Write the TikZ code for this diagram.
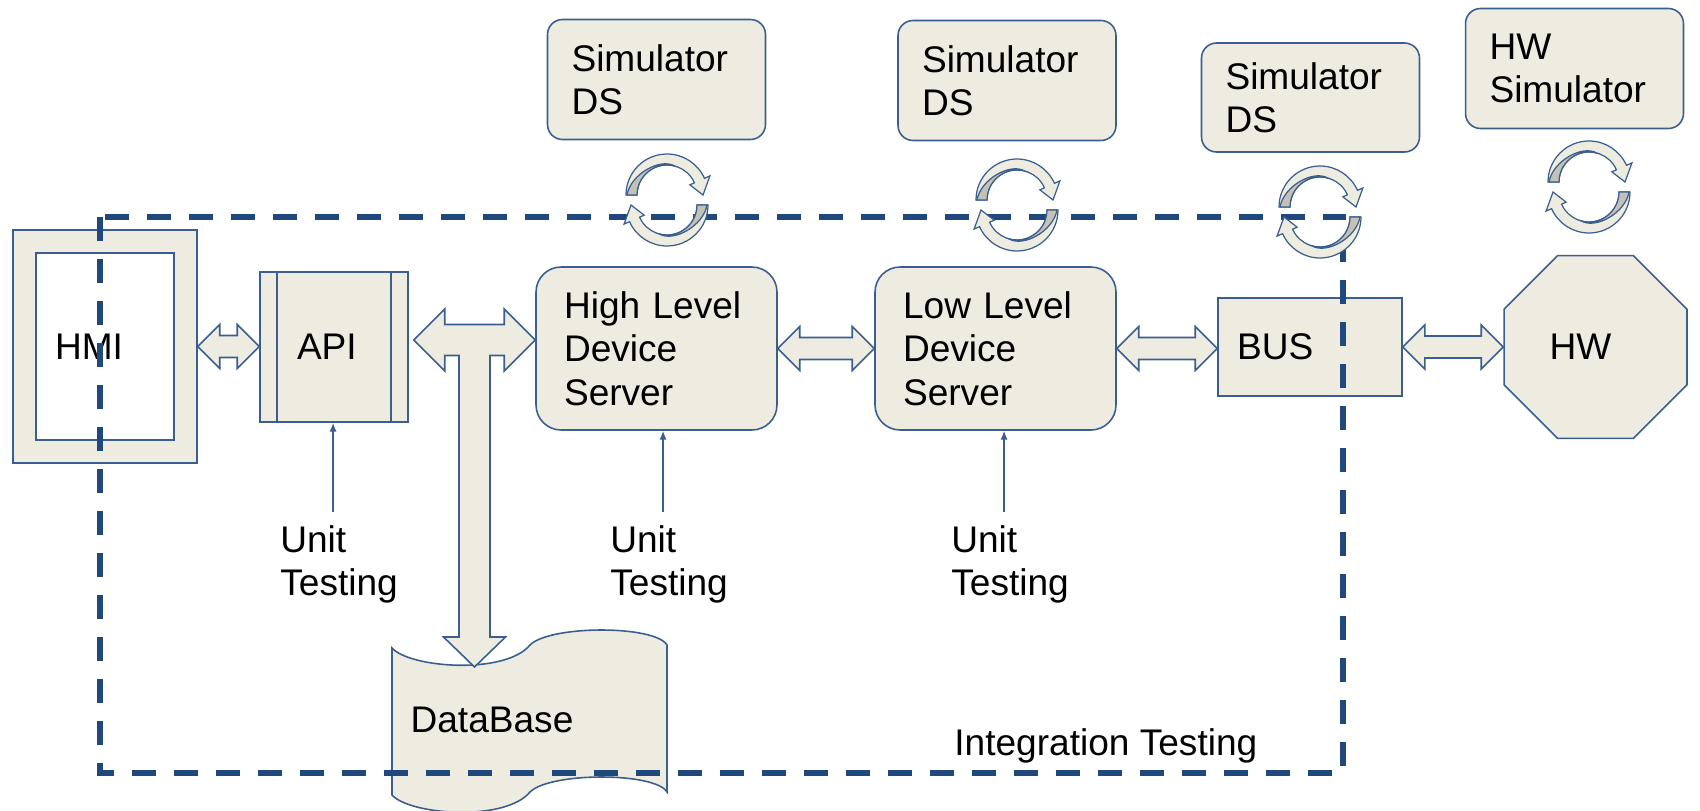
\documentclass[tikz,border=0pt]{standalone}
\usepackage{fontspec}
\setmainfont{Liberation Sans}
\usetikzlibrary{calc,shapes.geometric,arrows.meta}

\definecolor{boxfill}{HTML}{EEECE1}
\definecolor{boxline}{HTML}{3A5F8F}
\definecolor{dashblue}{HTML}{1F497D}
\definecolor{cycgrey}{HTML}{C4C1B6}

\newcommand\lbl{\fontsize{21.1}{24.7}\selectfont}

\tikzset{
  box/.style={draw=boxline, fill=boxfill, line width=0.9pt, font=\lbl, align=left},
  rbox/.style={box, rounded corners=0.5cm, minimum width=4.82cm, minimum height=3.26cm,
               text width=3.7cm, inner xsep=0.56cm},
  simbox/.style={box, rounded corners=0.3cm, minimum width=4.36cm, minimum height=2.4cm,
                 text width=3.4cm, inner xsep=0.48cm},
  blkarrow/.style={draw=boxline, fill=boxfill, line width=0.9pt, line join=miter},
  utarrow/.style={draw=boxline, line width=0.8pt, -{Latex[length=5pt,width=4pt]}},
  ut/.style={font=\lbl, align=left, inner xsep=0pt, inner ysep=0.26cm, anchor=north west},
  cyc/.pic={
    \begin{scope}[yscale=-1]
    \foreach \r in {0,180}{
      \begin{scope}[rotate=\r, shift={(0,5)}]
        \filldraw[fill=boxfill, draw=boxline, line width=0.7pt]
          (180:41) arc[start angle=180, end angle=24, radius=41] -- (24:47) -- (0:36)
          -- (24:25) -- (24:30) arc[start angle=24, end angle=180, radius=30] -- cycle;
        \filldraw[fill=cycgrey, draw=boxline, line width=0.7pt]
          (180:30) arc[start angle=180, end angle=75, radius=30]
          .. controls (100:38) and (150:42) .. (180:40) -- cycle;
      \end{scope}}
    \end{scope}
  }
}

% block arrow with two heads
\newcommand\dblarrow[2]{%
  \draw[blkarrow] (#1) -- ++(22,-22) -- ++(0,11) -- ($(#2|-#1)+(-22,-11)$) -- ++(0,-11)
    -- (#2|-#1) -- ++(-22,22) -- ++(0,-11) -- ($(#1)+(22,11)$) -- ++(0,11) -- cycle;}

\begin{document}
\begin{tikzpicture}[x=0.02cm, y=-0.02cm]
\useasboundingbox (0,0) rectangle (1700,811);

% database
\filldraw[fill=boxfill, draw=boxline, line width=0.9pt]
  (392,648) .. controls (410,668) and (505,675) .. (530,645)
  .. controls (550,625) and (655,625) .. (667,645) -- (667,792)
  .. controls (655,772) and (550,772) .. (530,792)
  .. controls (505,822) and (410,815) .. (392,795) -- cycle;
\node[font=\lbl, inner sep=0pt] (db) at (492,720) {DataBase};
\coordinate (dbtop) at (474.5,667);

% HMI
\node[box, minimum width=3.68cm, minimum height=4.66cm] (hmi) at (105,346.5) {};
\node[box, fill=white, minimum width=2.76cm, minimum height=3.74cm, text width=2cm,
      inner xsep=0.38cm] (hmiscr) at (105,346.5) {HMI};

% API
\node[box, minimum width=2.96cm, minimum height=3cm, text width=1.48cm,
      inner xsep=0.74cm] (api) at (334,347) {API};
\draw[boxline, line width=0.9pt] ([xshift=0.36cm]api.north west) -- ([xshift=0.36cm]api.south west);
\draw[boxline, line width=0.9pt] ([xshift=-0.36cm]api.north east) -- ([xshift=-0.36cm]api.south east);

% servers
\node[rbox] (hl) at (656.5,348.5) {High Level\\Device\\Server};
\node[rbox] (ll) at (995.5,348.5) {Low Level\\Device\\Server};

\node[box, minimum width=3.68cm, minimum height=1.96cm, text width=2.92cm,
      inner xsep=0.38cm] (bus) at (1310,347) {BUS};
\node[box, regular polygon, regular polygon sides=8, minimum size=3.96cm,
      inner sep=0pt] (hw) at (1595.5,347) {HW\hspace{0.6cm}};

% simulators
\node[simbox] (sim1) at (656.5,79.5) {Simulator\\DS};
\node[simbox] (sim2) at (1007,80.5) {Simulator\\DS};
\node[simbox, minimum height=2.18cm] (sim3) at (1310.5,97.5) {Simulator\\DS};
\node[simbox] (sim4) at (1574.5,68.5) {HW\\Simulator};

% block arrows
\dblarrow{hmi.east}{api.west}
\dblarrow{hl.east}{ll.west}
\dblarrow{ll.east}{bus.west}
\dblarrow{bus.east}{hw.180}

\coordinate (tl) at ($(api.east)+(5,-7)$);
\draw[blkarrow] (tl) -- ++(31,-31) -- ++(0,15.5) -- ($(hl.west|-tl)+(-31,-15.5)$) -- ++(0,-15.5)
  -- (hl.west|-tl) -- ++(-31,31) -- ++(0,-15.5) -- ($(dbtop|-tl)+(15.5,15.5)$)
  -- ($(dbtop)+(15.5,-30)$) -- ++(15.5,0) -- (dbtop) -- ++(-31,-30) -- ++(15.5,0)
  -- ($(dbtop|-tl)+(-15.5,15.5)$) -- ($(tl)+(31,15.5)$) -- ++(0,15.5) -- cycle;

% integration frame
\draw[dashblue, line width=0.11cm, dash pattern=on 0.48cm off 0.36cm] (100,217) rectangle (1343,773);
\node[font=\lbl, anchor=base west, inner sep=0pt] (integ) at (954,755) {Integration Testing};

% loops
\pic at (667,200) {cyc};
\pic at (1017,205) {cyc};
\pic at (1320,212) {cyc};
\pic at (1589,187) {cyc};

% unit tests
\node[ut] (ut1) at (280,512) {Unit\\Testing};
\node[ut] (ut2) at (610,512) {Unit\\Testing};
\node[ut] (ut3) at (951,512) {Unit\\Testing};
\coordinate (u1) at ($(ut1.north)+(-6,0)$);
\coordinate (u2) at ($(ut2.north)+(-6,0)$);
\coordinate (u3) at ($(ut3.north)+(-6,0)$);
\draw[utarrow] (u1) -- (u1|-api.south);
\draw[utarrow] (u2) -- (u2|-hl.south);
\draw[utarrow] (u3) -- (u3|-ll.south);

\end{tikzpicture}
\end{document}
